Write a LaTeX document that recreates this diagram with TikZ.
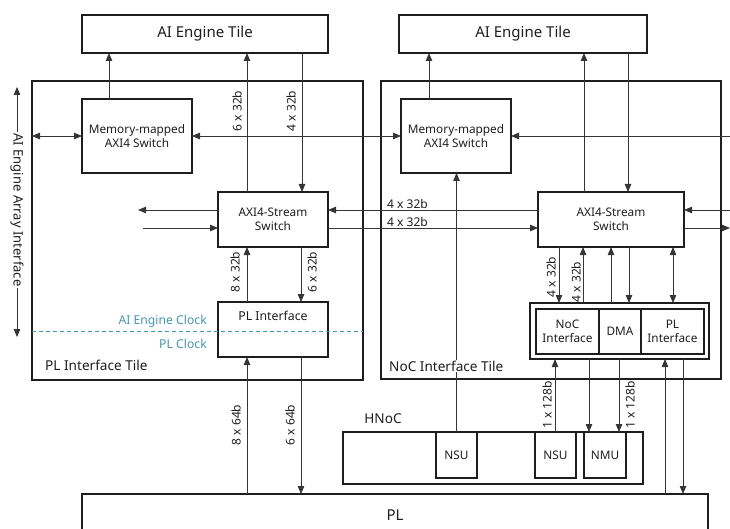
\documentclass[tikz,border=0pt]{standalone}
\usepackage{fontspec}
\setmainfont{Noto Sans}
\usetikzlibrary{arrows.meta,calc}
\definecolor{teal1}{RGB}{70,150,175}
\definecolor{ink}{RGB}{30,30,30}
\begin{document}
\begin{tikzpicture}[x=1pt,y=-1pt,
  box/.style={draw=ink, line width=1.2pt, inner sep=0pt, outer sep=0pt, align=center, text=ink, font=\fontsize{11.8}{13.5}\selectfont},
  bigbox/.style={box, font=\fontsize{15}{17}\selectfont},
  ln/.style={draw=ink!90, line width=0.8pt},
  arr/.style={ln, -{Triangle[length=8pt,width=6.5pt]}},
  darr/.style={ln, {Triangle[length=8pt,width=6.5pt]}-{Triangle[length=8pt,width=6.5pt]}},
  lbl/.style={font=\fontsize{12}{13}\selectfont, text=ink, inner sep=1pt},
  vlbl/.style={lbl, rotate=90},
  tlbl/.style={font=\fontsize{13.6}{15}\selectfont, text=ink, inner sep=1pt},
  clk/.style={font=\fontsize{12.2}{13}\selectfont, text=teal1, inner sep=0pt, anchor=east},
]
\useasboundingbox (0,0) rectangle (730,529);

% tiles
\node[box, minimum width=331pt, minimum height=299pt] (t1) at (197.5,230.5) {};
\node[box, minimum width=340pt, minimum height=298pt] (t2) at (551,230) {};
\node[bigbox, minimum width=246pt, minimum height=38pt] (aet1) at (205,34) {AI Engine Tile};
\node[bigbox, minimum width=248pt, minimum height=38pt] (aet2) at (523,34) {AI Engine Tile};

% switches
\node[box, minimum width=110pt, minimum height=74pt] (mm1) at (137,136) {Memory-mapped\\AXI4 Switch};
\node[box, minimum width=110pt, minimum height=74pt] (mm2) at (456,136) {Memory-mapped\\AXI4 Switch};
\node[box, minimum width=110pt, minimum height=55pt] (ss1) at (273,219.5) {AXI4-Stream\\Switch};
\node[box, minimum width=146pt, minimum height=55pt] (ss2) at (611,219.5) {AXI4-Stream\\Switch};

% PL interface (left)
\node[box, minimum width=110pt, minimum height=55pt] (pli) at (273,329.5) {};
\node[lbl, font=\fontsize{12.3}{13}\selectfont] (plit) at (273,316) {PL Interface};

% composite box
\node[box, minimum width=179pt, minimum height=56pt] (comp) at (619.5,331) {};
\node[box, minimum width=63pt, minimum height=45pt] (noci) at (567.5,331.5) {NoC\\Interface};
\node[box, minimum width=42pt, minimum height=45pt] (dma) at (620,331.5) {DMA};
\node[box, minimum width=63pt, minimum height=45pt] (pli2) at (672.5,331.5) {PL\\Interface};

% HNoC
\node[box, minimum width=300pt, minimum height=52pt] (hnoc) at (493,458) {};
\node[tlbl] (hnoct) at (383,419) {HNoC};
\node[box, minimum width=41pt, minimum height=46pt] (nsu1) at (456.5,455) {NSU};
\node[box, minimum width=41pt, minimum height=46pt] (nsu2) at (555.5,455) {NSU};
\node[box, minimum width=42pt, minimum height=46pt] (nmu) at (605,455) {NMU};

% PL
\node[box, minimum width=626pt, minimum height=56pt] (pl) at (395,522) {};
\node[tlbl, font=\fontsize{15}{17}\selectfont] (plt) at (395,515) {PL};

% clock domain
\draw[teal1, line width=0.7pt, dash pattern=on 4pt off 3pt] (t1.west |- 0,331) -- (t1.east |- 0,331);
\node[clk] (c1) at (207,321) {AI Engine Clock};
\node[clk] (c2) at (207,344) {PL Clock};

% tile labels
\node[tlbl, anchor=west] (t1l) at (44,365) {PL Interface Tile};

% left tile connections
\draw[arr] (109,0 |- mm1.north) -- (109,0 |- aet1.south);
\draw[arr] (247,0 |- ss1.north) -- (247,0 |- aet1.south);
\draw[arr] (302,0 |- aet1.south) -- (302,0 |- ss1.north);
\node[vlbl] (l1) at (237,111) {6 x 32b};
\node[vlbl] (l2) at (291,111) {4 x 32b};
\draw[darr] (t1.west |- mm1.west) -- (mm1.west);
\draw[darr] (mm1.east) -- (mm2.west);
\coordinate (r1) at (730,136);
\draw[arr] (r1) -- (mm2.east);
\coordinate (lo1) at (138,210);
\coordinate (li1) at (143,228);
\draw[arr] (ss1.west |- 0,210) -- (lo1);
\draw[arr] (li1) -- (ss1.west |- 0,228);
\draw[arr] (ss2.west |- 0,210) -- (ss1.east |- 0,210);
\draw[arr] (ss1.east |- 0,228) -- (ss2.west |- 0,228);
\node[lbl, anchor=south west] (l3) at (386,210) {4 x 32b};
\node[lbl, anchor=south west] (l4) at (386,228) {4 x 32b};

\draw[arr] (247,0 |- pli.north) -- (247,0 |- ss1.south);
\draw[arr] (301,0 |- ss1.south) -- (301,0 |- pli.north);
\node[vlbl] (l5) at (235,272) {8 x 32b};
\node[vlbl] (l6) at (312,272) {6 x 32b};
\draw[arr] (247,0 |- pl.north) -- (247,0 |- pli.south);
\draw[arr] (301,0 |- pli.south) -- (301,0 |- pl.north);
\node[vlbl] (l7) at (236,425) {8 x 64b};
\node[vlbl] (l8) at (290,425) {6 x 64b};

% right tile connections
\draw[arr] (429,0 |- mm2.north) -- (429,0 |- aet2.south);
\draw[arr] (584,0 |- ss2.north) -- (584,0 |- aet2.south);
\draw[arr] (628,0 |- aet2.south) -- (628,0 |- ss2.north);
\coordinate (r2) at (730,210);
\coordinate (r3) at (730,228);
\draw[arr] (r2) -- (ss2.east |- r2);
\draw[arr] (ss2.east |- r3) -- (r3);

\draw[arr] (559,0 |- ss2.south) -- (559,0 |- comp.north);
\draw[arr] (583,0 |- comp.north) -- (583,0 |- ss2.south);
\draw[arr] (611,0 |- comp.north) -- (611,0 |- ss2.south);
\draw[arr] (629,0 |- ss2.south) -- (629,0 |- comp.north);
\draw[darr] (673,0 |- ss2.south) -- (673,0 |- comp.north);
\node[vlbl] (l9) at (551,277) {4 x 32b};
\node[vlbl] (l10) at (576,282) {4 x 32b};

\draw[arr] (555,0 |- nsu2.north) -- (555,0 |- comp.south);
\draw[arr] (589,0 |- comp.south) -- (589,0 |- nmu.north);
\draw[arr] (619,0 |- comp.south) -- (619,0 |- nmu.north);
\draw[arr] (665,0 |- pl.north) -- (665,0 |- comp.south);
\draw[arr] (683,0 |- comp.south) -- (683,0 |- pl.north);
\node[vlbl] (l11) at (547,405) {1 x 128b};
\node[vlbl] (l12) at (630,405) {1 x 128b};

\draw[arr] (nsu1.north) -- (nsu1.north |- mm2.south);
\node[tlbl, anchor=west, fill=white] (t2l) at (388,366) {NoC Interface Tile};

% array interface
\coordinate (ai1) at (17,87);
\coordinate (ai2) at (17,337);
\draw[darr] (ai1) -- (ai2);
\node[tlbl, font=\fontsize{13}{15}\selectfont, rotate=-90, fill=white, inner sep=1.5pt] (ait) at (17,210) {AI Engine Array Interface};
\end{tikzpicture}
\end{document}
